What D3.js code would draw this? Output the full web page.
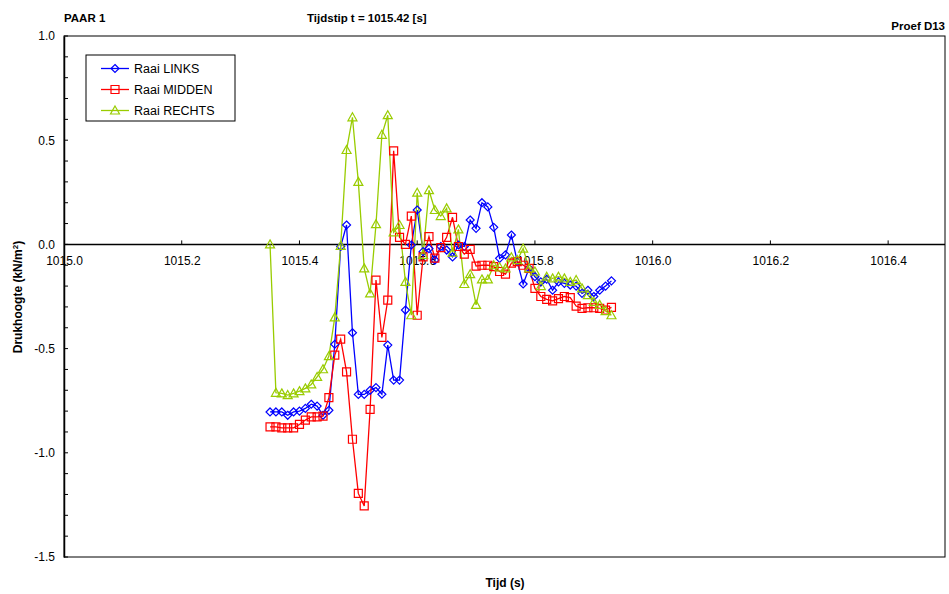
<!DOCTYPE html>
<html><head><meta charset="utf-8">
<script src="https://cdn.jsdelivr.net/npm/d3@7"></script>
<style>
body{margin:0;background:#fff;}
text{font-family:"Liberation Sans",Arial,sans-serif;}
</style></head>
<body><svg id="c" width="949" height="594"></svg>
<script>
const times = [1015.35,1015.36,1015.37,1015.38,1015.39,1015.40,1015.41,1015.42,1015.43,1015.44,
1015.45,1015.46,1015.47,1015.48,1015.49,1015.50,1015.51,1015.52,1015.53,1015.54,
1015.55,1015.56,1015.57,1015.58,1015.59,1015.60,1015.61,1015.62,1015.63,1015.64,
1015.65,1015.66,1015.67,1015.68,1015.69,1015.70,1015.71,1015.72,1015.73,1015.74,
1015.75,1015.76,1015.77,1015.78,1015.79,1015.80,1015.81,1015.82,1015.83,1015.84,
1015.85,1015.86,1015.87,1015.88,1015.89,1015.90,1015.91,1015.92,1015.93];
const links = [-0.804,-0.804,-0.804,-0.82,-0.804,-0.80,-0.787,-0.767,-0.776,-0.82,
-0.796,-0.479,-0.01,0.093,-0.424,-0.72,-0.72,-0.70,-0.687,-0.719,
-0.483,-0.651,-0.651,-0.315,-0.003,0.165,-0.035,-0.02,-0.075,-0.01,
-0.027,-0.06,-0.003,-0.01,0.117,0.077,0.2,0.18,0.082,-0.067,
-0.05,0.045,-0.083,-0.19,-0.115,-0.155,-0.18,-0.167,-0.22,-0.18,
-0.187,-0.195,-0.2,-0.235,-0.22,-0.25,-0.22,-0.2,-0.175];
const midden = [-0.876,-0.876,-0.88,-0.88,-0.88,-0.864,-0.843,-0.828,-0.828,-0.824,
-0.735,-0.531,-0.455,-0.612,-0.935,-1.195,-1.255,-0.792,-0.171,-0.446,
-0.267,0.449,0.034,0.0,0.136,-0.34,-0.06,0.037,-0.066,-0.015,
0.034,0.13,-0.01,-0.047,-0.024,-0.104,-0.1,-0.1,-0.107,-0.13,
-0.143,-0.09,-0.083,-0.1,-0.115,-0.211,-0.25,-0.264,-0.271,-0.26,
-0.25,-0.255,-0.296,-0.307,-0.304,-0.304,-0.307,-0.315,-0.302];
const rechts = [0.0,-0.712,-0.715,-0.723,-0.715,-0.704,-0.691,-0.672,-0.636,-0.599,
-0.536,-0.350,-0.007,0.453,0.61,0.30,-0.115,-0.235,0.097,0.526,
0.62,0.058,0.093,-0.18,-0.34,0.248,-0.05,0.26,0.165,0.136,
0.173,-0.04,0.072,-0.19,-0.143,-0.29,-0.168,-0.168,-0.1,-0.11,
-0.115,-0.062,-0.075,-0.02,-0.115,-0.13,-0.2,-0.155,-0.163,-0.155,
-0.163,-0.18,-0.171,-0.211,-0.243,-0.276,-0.29,-0.32,-0.34];
const seriesNames = ["Raai LINKS","Raai MIDDEN","Raai RECHTS"];
const xTicks = [1015.0,1015.2,1015.4,1015.6,1015.8,1016.0,1016.2,1016.4];
const yTicks = [1.0,0.5,0.0,-0.5,-1.0,-1.5];

const svg = d3.select("#c");
const x = d3.scaleLinear().domain([1015.0,1016.5]).range([64,947]);
const y = d3.scaleLinear().domain([-1.5,1.0]).range([557,36]);
const fmt = d => d3.format(".1f")(d).replace("\u2212","-");

const series = [
 {name:seriesNames[0], vals:links, color:"#0000FF", marker:"diamond"},
 {name:seriesNames[1], vals:midden, color:"#FF0000", marker:"square"},
 {name:seriesNames[2], vals:rechts, color:"#99CC00", marker:"triangle"}
];

// plot frame
svg.append("rect").attr("x",64).attr("y",36).attr("width",881).attr("height",521)
  .attr("fill","none").attr("stroke","#000").attr("stroke-width",1);

// y axis
const yAxis = d3.axisLeft(y).tickValues(yTicks).tickFormat(fmt).tickSize(0).tickPadding(9);
const gy = svg.append("g").attr("transform","translate(64,0)").call(yAxis);
gy.select(".domain").attr("stroke","#000").attr("stroke-width",1.5);
gy.selectAll("text").attr("font-size",12).attr("fill","#000");
// minor ticks inside
const minor = d3.range(-15,11).map(v=>v/10);
svg.append("g").selectAll("line").data(minor).join("line")
  .attr("x1",64).attr("x2",68).attr("y1",d=>y(d)).attr("y2",d=>y(d))
  .attr("stroke","#000").attr("stroke-width",1);

// x axis at y=0
const xAxis = d3.axisBottom(x).tickValues(xTicks).tickFormat(fmt).tickSize(0).tickPadding(12);
const gx = svg.append("g").attr("transform",`translate(0,${y(0)})`).call(xAxis);
gx.select(".domain").remove();
gx.selectAll("text").attr("font-size",12).attr("fill","#000");
svg.append("line").attr("x1",64).attr("x2",945).attr("y1",y(0)).attr("y2",y(0))
  .attr("stroke","#000").attr("stroke-width",1.5);
svg.append("g").selectAll("line").data(xTicks.slice(1)).join("line")
  .attr("x1",d=>x(d)).attr("x2",d=>x(d)).attr("y1",y(0)).attr("y2",y(0)-4)
  .attr("stroke","#000").attr("stroke-width",1);

// markers
function markerPath(type){
  if(type==="diamond") return "M0,-4L4,0L0,4L-4,0Z";
  if(type==="square") return "M-4,-4H4V4H-4Z";
  return "M0,-4.5L4.5,3.5H-4.5Z";
}
const line = d3.line().x((d,i)=>x(times[i])).y(d=>y(d));
series.forEach(s=>{
  svg.append("path").datum(s.vals).attr("d",line).attr("fill","none")
    .attr("stroke",s.color).attr("stroke-width",1.3);
});
series.forEach(s=>{
  svg.append("g").selectAll("path").data(s.vals).join("path")
    .attr("transform",(d,i)=>`translate(${x(times[i])},${y(d)})`)
    .attr("d",markerPath(s.marker)).attr("fill","none")
    .attr("stroke",s.color).attr("stroke-width",1.2);
});

// legend
const lg = svg.append("g");
lg.append("rect").attr("x",86).attr("y",55).attr("width",149).attr("height",66)
  .attr("fill","#fff").attr("stroke","#000").attr("stroke-width",1);
series.forEach((s,i)=>{
  const yy = 68.5 + i*21;
  lg.append("line").attr("x1",101).attr("x2",129).attr("y1",yy).attr("y2",yy).attr("stroke",s.color).attr("stroke-width",1.3);
  lg.append("path").attr("transform",`translate(115,${yy})`).attr("d",markerPath(s.marker))
    .attr("fill","none").attr("stroke",s.color).attr("stroke-width",1.2);
  lg.append("text").attr("x",134).attr("y",yy+4.5).attr("font-size",12.5).text(s.name);
});

// titles
svg.append("text").attr("x",64).attr("y",22).attr("font-size",11.5).attr("font-weight","bold").text("PAAR 1");
svg.append("text").attr("x",307).attr("y",22).attr("font-size",11.5).attr("font-weight","bold").text("Tijdstip t = 1015.42 [s]");
svg.append("text").attr("x",945).attr("y",30).attr("text-anchor","end").attr("font-size",11.5).attr("font-weight","bold").text("Proef D13");
svg.append("text").attr("x",505).attr("y",587).attr("text-anchor","middle").attr("font-size",12).attr("font-weight","bold").text("Tijd (s)");
const yl = svg.append("text").attr("transform","translate(22,297) rotate(-90)").attr("text-anchor","middle")
  .attr("font-size",12).attr("font-weight","bold");
yl.append("tspan").text("Drukhoogte (kN/m");
yl.append("tspan").attr("baseline-shift","super").attr("font-size",8).text("2");
yl.append("tspan").text(")");
</script></body></html>
